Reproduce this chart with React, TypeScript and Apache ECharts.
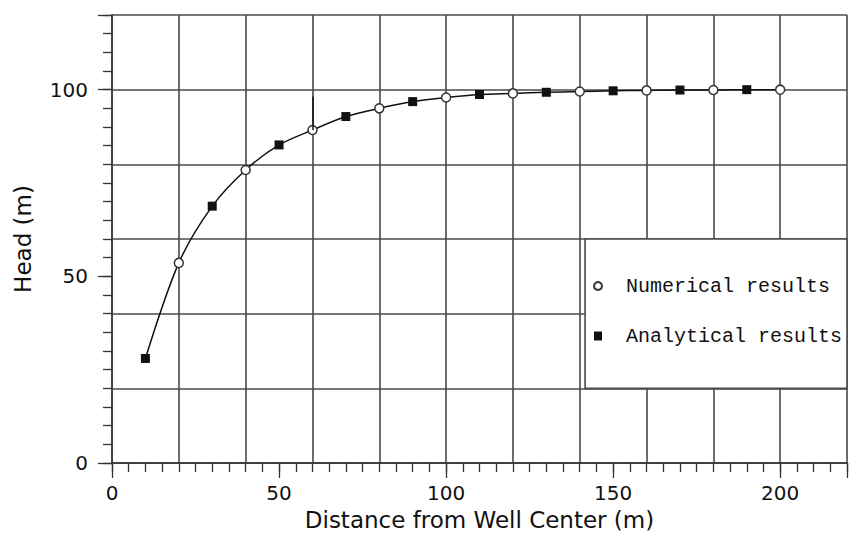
import React, { useEffect, useRef } from "react";
import * as echarts from "echarts";

const xTitle = "Distance from Well Center (m)";
const yTitle = "Head (m)";
const numericalName = "Numerical results";
const analyticalName = "Analytical results";

const numericalX = [20, 40, 60, 80, 100, 120, 140, 160, 180, 200];
const numericalY = [53.6, 78.5, 89.2, 95.0, 97.9, 99.0, 99.5, 99.8, 99.9, 100];
const analyticalX = [10, 30, 50, 70, 90, 110, 130, 150, 170, 190];
const analyticalY = [28, 68.8, 85.2, 92.8, 96.8, 98.7, 99.3, 99.7, 99.9, 100];

const xMin = 0, xMax = 220;
const yMin = 0, yMax = 120;
const labelStep = 50;
const minorStep = 5;
const gridStep = 20;
// legend box corners in data units
const boxLeftX = 141.6, boxTopY = 60, boxBottomY = 20;
// stray stroke at x=60 in the original
const strayX = 60, strayY0 = 89.2, strayY1 = 98.2;

const FONT = "DejaVu Sans, Verdana, sans-serif";
const MONO = "Liberation Mono, Courier New, monospace";
const GRID_COLOR = "#4a4a4a";

export default function App() {
  const ref = useRef<HTMLDivElement>(null);
  useEffect(() => {
    if (!ref.current) return;
    const chart = echarts.init(ref.current, undefined, { renderer: "svg" });
    const numerical = numericalX.map((x, i) => [x, numericalY[i]]);
    const analytical = analyticalX.map((x, i) => [x, analyticalY[i]]);
    const curve = [...numerical, ...analytical].sort((a, b) => a[0] - b[0]);

    const labelFmt = (v: number) => (v % labelStep === 0 ? String(v) : "");

    chart.setOption({
      animation: false,
      backgroundColor: "#fff",
      grid: { left: 112, right: 0, top: 15, bottom: 74, containLabel: false },
      xAxis: [
        {
          type: "value", position: "bottom", min: xMin, max: xMax, interval: minorStep,
          axisLine: { show: true, lineStyle: { color: "#111", width: 1.6 } },
          axisTick: { show: true, inside: false, length: 9, lineStyle: { color: "#333", width: 1.3 } },
          axisLabel: { formatter: labelFmt, fontSize: 20, fontFamily: FONT, color: "#111", margin: 20 },
          splitLine: { show: false },
          name: xTitle, nameLocation: "middle", nameGap: 45,
          nameTextStyle: { fontSize: 23, fontFamily: FONT, color: "#111" },
        },
        {
          type: "value", position: "bottom", min: xMin, max: xMax, interval: labelStep,
          axisLine: { show: false },
          axisTick: { show: true, inside: false, length: 15, lineStyle: { color: "#333", width: 1.3 } },
          axisLabel: { show: false }, splitLine: { show: false },
        },
        {
          type: "value", position: "top", min: xMin, max: xMax, interval: gridStep,
          axisLine: { show: true, lineStyle: { color: GRID_COLOR, width: 1.6 } },
          axisTick: { show: false }, axisLabel: { show: false },
          splitLine: { show: true, lineStyle: { color: GRID_COLOR, width: 1.6 } },
        },
      ],
      yAxis: [
        {
          type: "value", position: "left", min: yMin, max: yMax, interval: minorStep,
          axisLine: { show: true, lineStyle: { color: "#111", width: 1.6 } },
          axisTick: { show: true, inside: false, length: 9, lineStyle: { color: "#333", width: 1.3 } },
          axisLabel: { formatter: labelFmt, fontSize: 20, fontFamily: FONT, color: "#111", margin: 24 },
          splitLine: { show: false },
          name: yTitle, nameLocation: "middle", nameGap: 78,
          nameTextStyle: { fontSize: 23, fontFamily: FONT, color: "#111" },
        },
        {
          type: "value", position: "left", min: yMin, max: yMax, interval: labelStep,
          axisLine: { show: false },
          axisTick: { show: true, inside: false, length: 14, lineStyle: { color: "#333", width: 1.3 } },
          axisLabel: { show: false }, splitLine: { show: false },
        },
        {
          type: "value", position: "right", min: yMin, max: yMax, interval: gridStep,
          axisLine: { show: true, lineStyle: { color: GRID_COLOR, width: 1.6 } },
          axisTick: { show: false }, axisLabel: { show: false },
          splitLine: { show: true, lineStyle: { color: GRID_COLOR, width: 1.6 } },
        },
      ],
      legend: {
        orient: "vertical", left: 593, top: 276, padding: 0, itemGap: 30,
        itemWidth: 8, itemHeight: 9, data: [numericalName, analyticalName],
        textStyle: { fontSize: 20, fontFamily: MONO, color: "#111", padding: [0, 0, 0, 19] },
        z: 6,
      },
      series: [
        {
          type: "line", name: "curve", data: curve, smooth: 0.3, showSymbol: false,
          xAxisIndex: 0, yAxisIndex: 0, silent: true, z: 2,
          lineStyle: { color: "#111", width: 1.5 },
          markLine: {
            silent: true, symbol: "none", label: { show: false },
            lineStyle: { color: "#111", width: 1.5, type: "solid" },
            data: [[{ coord: [strayX, strayY0] }, { coord: [strayX, strayY1] }]],
          },
        },
        {
          type: "scatter", name: numericalName, data: numerical, symbol: "circle", symbolSize: 9,
          xAxisIndex: 0, yAxisIndex: 0, z: 3,
          itemStyle: { color: "#fff", borderColor: "#333", borderWidth: 1.5, opacity: 1 },
        },
        {
          type: "scatter", name: analyticalName, data: analytical, symbol: "rect", symbolSize: 9,
          xAxisIndex: 0, yAxisIndex: 0, z: 3,
          itemStyle: { color: "#111", opacity: 1 },
        },
      ],
    });

    const p1 = chart.convertToPixel({ xAxisIndex: 0, yAxisIndex: 0 }, [boxLeftX, boxTopY]) as number[];
    const p2 = chart.convertToPixel({ xAxisIndex: 0, yAxisIndex: 0 }, [xMax, boxBottomY]) as number[];
    chart.setOption({
      graphic: [
        {
          type: "rect", z: 4,
          shape: { x: p1[0], y: p1[1], width: p2[0] - p1[0], height: p2[1] - p1[1] },
          style: { fill: "#fff", stroke: GRID_COLOR, lineWidth: 1.6 },
        },
      ],
    });

    return () => chart.dispose();
  }, []);
  return (
    <div
      ref={ref}
      style={{ position: "fixed", left: 0, top: 0, width: 850, height: 537, background: "#fff" }}
    />
  );
}
